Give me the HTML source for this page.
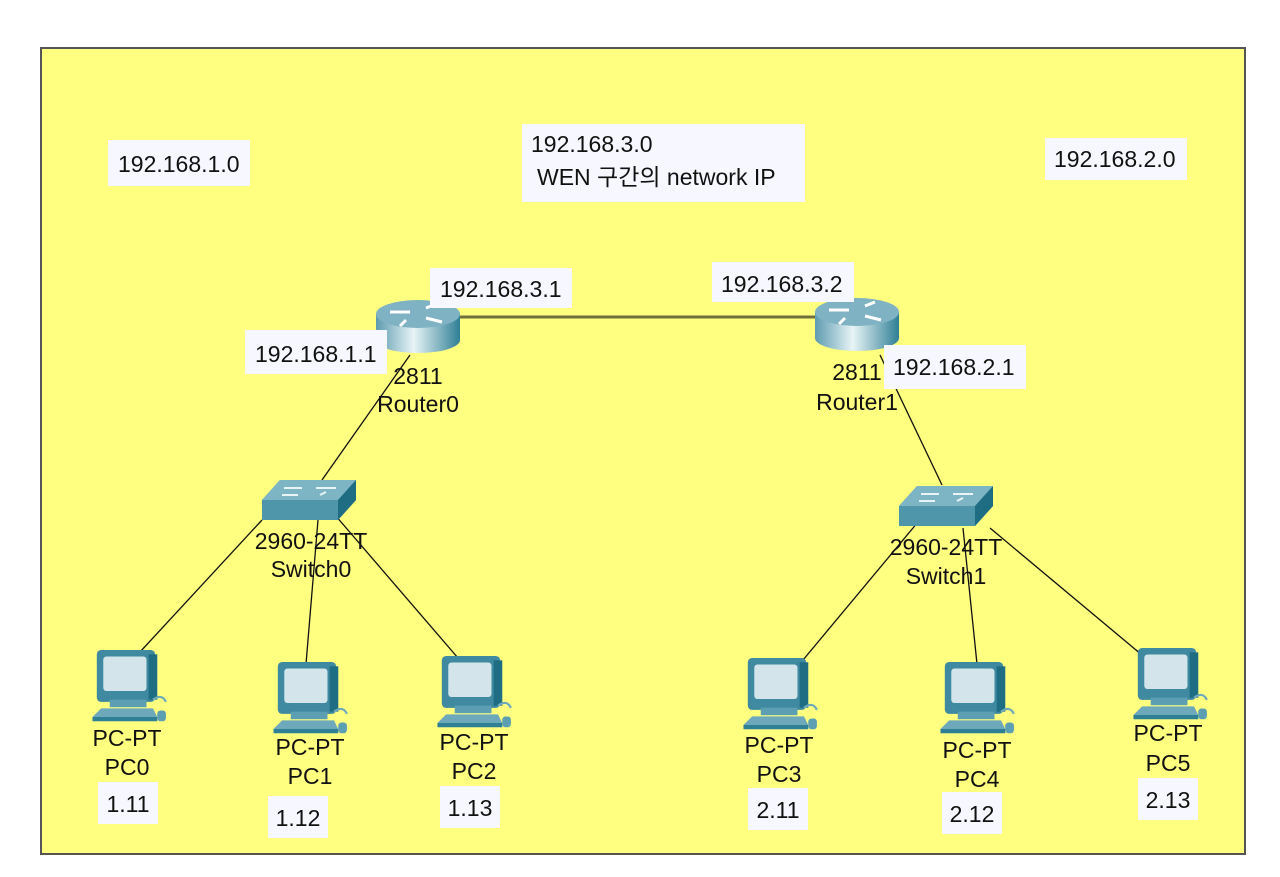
<!DOCTYPE html>
<html><head><meta charset="utf-8"><style>
html,body{margin:0;padding:0;background:#fff;width:1280px;height:877px;overflow:hidden}
svg text{font-family:"Liberation Sans","Noto Sans CJK KR",sans-serif;fill:#111}
</style></head><body>
<svg width="1280" height="877" viewBox="0 0 1280 877" xmlns="http://www.w3.org/2000/svg">
<defs>
<linearGradient id="rg" x1="0" x2="1" y1="0" y2="0">
<stop offset="0" stop-color="#5d9bb0"/><stop offset="0.45" stop-color="#e8f4f6"/><stop offset="1" stop-color="#2f7f95"/></linearGradient>
<g id="pc0">
<rect x="10" y="0" width="54" height="48" rx="4" fill="#3f8aa0"/>
<rect x="16" y="6" width="40" height="32" rx="3" fill="#d3e5ea"/>
<rect x="58" y="4" width="8" height="42" fill="#1f6d82"/>
<rect x="22" y="46" width="34" height="7" fill="#5c9fb2"/>
<polygon points="14,54 62,54 66,62 6,62" fill="#6ea9bb"/>
<polygon points="6,62 66,62 66,66 6,66" fill="#2f7f95"/>
<path d="M62 46 q8 -6 12 2" stroke="#6ea9bb" fill="none" stroke-width="2"/>
<rect x="66" y="56" width="8" height="10" rx="3" fill="#5c9fb2"/>
</g>
<g id="pc"><use href="#pc0" transform="scale(1.08)"/></g>
<g id="router">
<rect x="0" y="14" width="84" height="26" fill="url(#rg)"/>
<ellipse cx="42" cy="40" rx="42" ry="13" fill="url(#rg)"/>
<ellipse cx="42" cy="14" rx="42" ry="14" fill="#7fb2c2"/>
<path d="M14 12 h20 M50 8 l10 -4 M50 18 l16 4 M30 20 l-6 6" stroke="#fff" stroke-width="3" fill="none"/>
</g>
<g id="switch">
<polygon points="18,0 94,0 94,20 76,40 0,40 0,20" fill="#4f96ab"/>
<polygon points="0,20 18,0 94,0 76,20" fill="#7db5c4"/>
<polygon points="76,20 94,0 94,20 76,40" fill="#1f6d82"/>
<path d="M22 8 h18 M54 8 h20 M20 15 h16 M58 15 l6 -3" stroke="#e8f4f6" stroke-width="2"/>
</g>
</defs>
<rect x="41" y="48" width="1204" height="806" fill="#ffff80" stroke="#555" stroke-width="2"/>
<g stroke="#111" stroke-width="1.3">
<line x1="410" y1="355" x2="322" y2="480"/>
<line x1="880" y1="355" x2="942" y2="485"/>
<line x1="262" y1="520" x2="140" y2="652"/>
<line x1="318" y1="520" x2="306" y2="664"/>
<line x1="335" y1="515" x2="458" y2="658"/>
<line x1="918" y1="522" x2="803" y2="660"/>
<line x1="963" y1="528" x2="977" y2="664"/>
<line x1="990" y1="528" x2="1142" y2="655"/>
</g>
<line x1="455" y1="317" x2="820" y2="317" stroke="#6f6f3a" stroke-width="3"/>
<use href="#router" x="376" y="300"/>
<use href="#router" x="815" y="298"/>
<use href="#switch" x="262" y="480"/>
<use href="#switch" x="899" y="486"/>
<use href="#pc" x="86" y="650"/>
<use href="#pc" x="267" y="662"/>
<use href="#pc" x="431" y="656"/>
<use href="#pc" x="737" y="658"/>
<use href="#pc" x="934" y="662"/>
<use href="#pc" x="1127" y="648"/>
<g fill="#f6f7ff">
<rect x="108" y="140" width="142" height="46"/>
<rect x="522" y="124" width="283" height="78"/>
<rect x="1045" y="138" width="142" height="42"/>
<rect x="430" y="268" width="142" height="40"/>
<rect x="712" y="262" width="142" height="40"/>
<rect x="245" y="330" width="142" height="44"/>
<rect x="884" y="345" width="142" height="44"/>
<rect x="98" y="782" width="60" height="42"/>
<rect x="268" y="796" width="60" height="42"/>
<rect x="440" y="786" width="60" height="42"/>
<rect x="748" y="788" width="60" height="42"/>
<rect x="942" y="792" width="60" height="42"/>
<rect x="1138" y="778" width="60" height="42"/>
</g>
<g font-size="23">
<text x="118" y="172">192.168.1.0</text>
<text x="531" y="152">192.168.3.0</text>
<text x="537" y="185">WEN 구간의 network IP</text>
<text x="1054" y="167">192.168.2.0</text>
<text x="440" y="297">192.168.3.1</text>
<text x="721" y="292">192.168.3.2</text>
<text x="255" y="362">192.168.1.1</text>
<text x="893" y="375">192.168.2.1</text>
</g>
<g font-size="23" text-anchor="middle">
<text x="418" y="384">2811</text><text x="418" y="412">Router0</text>
<text x="857" y="380">2811</text><text x="857" y="410">Router1</text>
<text x="311" y="549">2960-24TT</text><text x="311" y="577">Switch0</text>
<text x="946" y="555">2960-24TT</text><text x="946" y="584">Switch1</text>
<text x="127" y="746">PC-PT</text><text x="127" y="775">PC0</text>
<text x="310" y="755">PC-PT</text><text x="310" y="784">PC1</text>
<text x="474" y="750">PC-PT</text><text x="474" y="779">PC2</text>
<text x="779" y="753">PC-PT</text><text x="779" y="782">PC3</text>
<text x="977" y="758">PC-PT</text><text x="977" y="787">PC4</text>
<text x="1168" y="741">PC-PT</text><text x="1168" y="771">PC5</text>
<text x="128" y="812">1.11</text>
<text x="298" y="826">1.12</text>
<text x="470" y="816">1.13</text>
<text x="778" y="818">2.11</text>
<text x="972" y="822">2.12</text>
<text x="1168" y="808">2.13</text>
</g>
</svg>
</body></html>
